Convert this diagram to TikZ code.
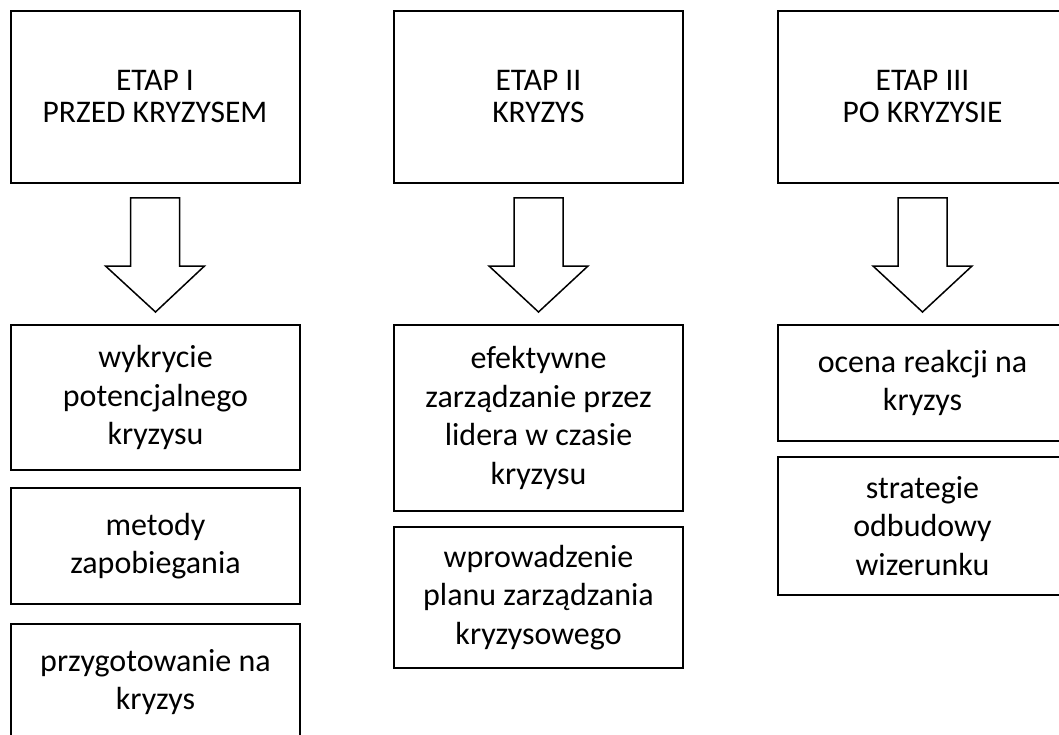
\documentclass[tikz,border=0pt]{standalone}
\usepackage{fontspec}
\setmainfont{Carlito}
\usetikzlibrary{calc}
\begin{document}
\begin{tikzpicture}[x=1pt,y=-1pt,
  box/.style={draw, line width=2pt, align=center, inner sep=0pt,
    minimum width=289pt, font=\fontsize{32}{38.5}\selectfont},
  headbox/.style={box, minimum height=172pt, font=\fontsize{31.5}{32}\selectfont},
  blockarrow/.style={draw, line width=1.5pt, line join=miter, fill=white}]
\useasboundingbox (0,0) rectangle (1059,735);
\clip (0,0) rectangle (1059,735);
% top boxes
\node[headbox] (t1) at (155,97) {ETAP I\\PRZED KRYZYSEM};
\node[headbox] (t2) at (538.5,97) {ETAP II\\KRYZYS};
\node[headbox] (t3) at (922.5,97) {ETAP III\\PO KRYZYSIE};
% column 1
\node[box, minimum height=145pt] (a1) at (155.5,397.5) {wykrycie\\potencjalnego\\kryzysu};
\node[box, minimum height=116pt] (a2) at (155.5,546) {metody\\zapobiegania};
\node[box, minimum height=116pt] (a3) at (155.5,682) {przygotowanie na\\kryzys};
% column 2
\node[box, minimum height=186pt] (b1) at (538.5,418) {efektywne\\zarządzanie przez\\lidera w czasie\\kryzysu};
\node[box, minimum height=141pt] (b2) at (538.5,597.5) {wprowadzenie\\planu zarządzania\\kryzysowego};
% column 3
\node[box, minimum height=116pt] (c1) at (922.5,383) {ocena reakcji na\\kryzys};
\node[box, minimum height=138pt] (c2) at (922.5,526) {strategie\\odbudowy\\wizerunku};
% block arrows
\foreach \n/\m in {t1/a1,t2/b1,t3/c1}{
  \draw[blockarrow] ($(\n.south)+(-24.5,14)$) -- ++(49,0) -- ++(0,68) -- ++(25,0)
    -- ($(\m.north)+(0,-12)$) -- ($(\n.south)+(-49.5,82)$) -- ++(25,0) -- cycle;
}
\end{tikzpicture}
\end{document}
